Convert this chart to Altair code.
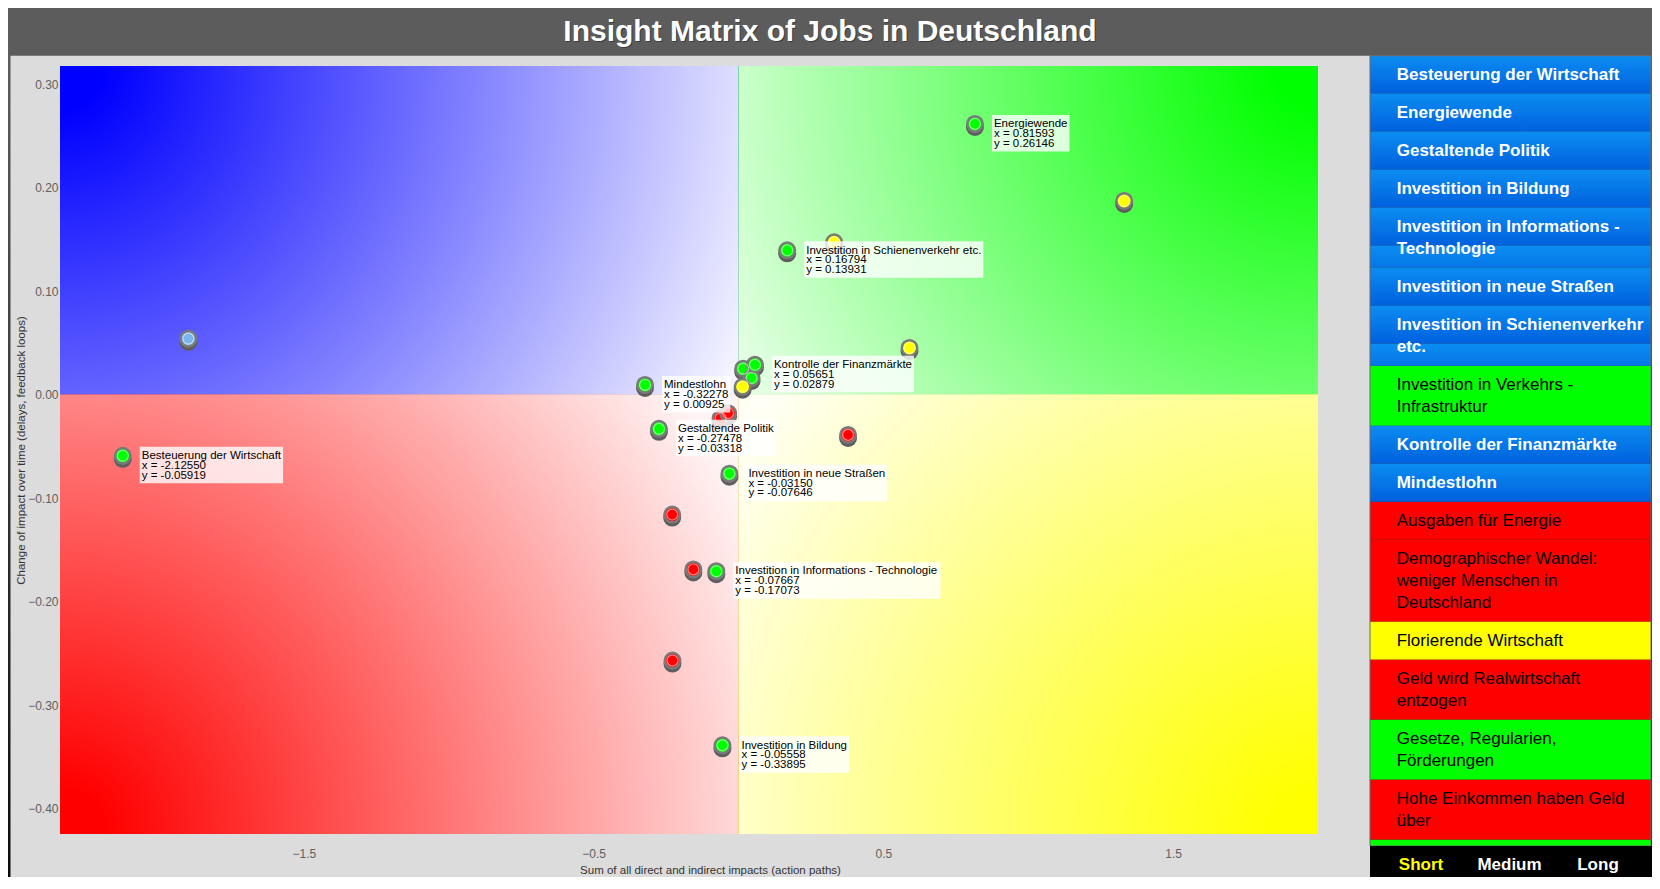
import altair as alt
import pandas as pd

# ---------------- data ----------------
labeled_names = [
    "Besteuerung der Wirtschaft",
    "Energiewende",
    "Investition in Schienenverkehr etc.",
    "Kontrolle der Finanzmärkte",
    "Mindestlohn",
    "Gestaltende Politik",
    "Investition in neue Straßen",
    "Investition in Informations - Technologie",
    "Investition in Bildung",
]
labeled_x = [-2.12550, 0.81593, 0.16794, 0.05651, -0.32278, -0.27478, -0.03150, -0.07667, -0.05558]
labeled_y = [-0.05919, 0.26146, 0.13931, 0.02879, 0.00925, -0.03318, -0.07646, -0.17073, -0.33895]

other_x = [-1.899, -0.062, -0.036, 0.378, -0.229, -0.156, -0.228, 0.016, 0.045, 1.331, 0.330, 0.590, 0.014]
other_y = [0.054, -0.023, -0.018, -0.039, -0.116, -0.169, -0.257, 0.025, 0.016, 0.187, 0.147, 0.045, 0.0075]
other_kind = ["blue", "red", "red", "red", "red", "red", "red", "green", "green",
              "yellow", "yellow", "yellow", "yellow"]

legend_items = [
    "Besteuerung der Wirtschaft",
    "Energiewende",
    "Gestaltende Politik",
    "Investition in Bildung",
    "Investition in Informations -\nTechnologie",
    "Investition in neue Straßen",
    "Investition in Schienenverkehr\netc.",
    "Investition in Verkehrs -\nInfrastruktur",
    "Kontrolle der Finanzmärkte",
    "Mindestlohn",
    "Ausgaben für Energie",
    "Demographischer Wandel:\nweniger Menschen in\nDeutschland",
    "Florierende Wirtschaft",
    "Geld wird Realwirtschaft\nentzogen",
    "Gesetze, Regularien,\nFörderungen",
    "Hohe Einkommen haben Geld\nüber",
    "",
]
legend_kind = ["blue", "blue", "blue", "blue", "blue", "blue", "blue", "green", "blue", "blue",
               "red", "red", "yellow", "red", "green", "red", "green"]

switch_labels = ["Short", "Medium", "Long"]
switch_state = ["active", "idle", "idle"]

x_ticks = [-1.5, -0.5, 0.5, 1.5]
y_ticks = [-0.40, -0.30, -0.20, -0.10, 0.00, 0.10, 0.20, 0.30]

TITLE = "Insight Matrix of Jobs in Deutschland"
X_TITLE = "Sum of all direct and indirect impacts (action paths)"
Y_TITLE = "Change of impact over time (delays, feedback loops)"

# ---------------- layout ----------------
FONT = "Liberation Sans"
W, H = 1258, 768
PAD_L, PAD_T = 52, 58
CANVAS_W, CANVAS_H = 1644, 869
XMIN, XMAX = -2.342, 2.0
YMIN, YMAX = -0.4246, 0.3174
kx = W / (XMAX - XMIN)
ky = H / (YMAX - YMIN)

KIND_DOMAIN = ["green", "red", "yellow", "blue"]
KIND_RANGE = ["#00ff00", "#ff0000", "#ffff00", "#7cb5ec"]

AW = {" ": 278, ",": 278, "-": 333, ".": 278, ":": 278, "=": 584,
      "A": 667, "B": 667, "C": 722, "D": 722, "E": 667, "F": 611, "G": 778, "H": 722, "I": 278,
      "J": 500, "K": 667, "L": 556, "M": 833, "N": 722, "O": 778, "P": 667, "Q": 778, "R": 722,
      "S": 667, "T": 611, "U": 722, "V": 667, "W": 944, "X": 667, "Y": 667, "Z": 611,
      "a": 556, "b": 556, "c": 500, "d": 556, "e": 556, "f": 278, "g": 556, "h": 556, "i": 222,
      "j": 222, "k": 500, "l": 222, "m": 833, "n": 556, "o": 556, "p": 556, "q": 556, "r": 333,
      "s": 500, "t": 278, "u": 556, "v": 500, "w": 722, "x": 500, "y": 500, "z": 500,
      "ä": 556, "ö": 556, "ü": 556, "ß": 611}


def text_w(s, size):
    return sum(AW.get(ch, 556) for ch in s) * size / 1000.0


xscale = alt.Scale(domain=[XMIN, XMAX], nice=False, zero=False)
yscale = alt.Scale(domain=[YMIN, YMAX], nice=False, zero=False)
one = alt.Data(values=[{"a": 1}])

# ---------------- tables ----------------
pts_rows = [dict(x=a, y=b, kind=k) for a, b, k in zip(other_x, other_y, other_kind)]
pts_rows += [dict(x=a, y=b, kind="green") for a, b in zip(labeled_x, labeled_y)]
pts = pd.DataFrame(pts_rows)

LAB_FS = 11.5
lab_rows = []
for nm, a, b in zip(labeled_names, labeled_x, labeled_y):
    lines = [nm, f"x = {a:.5f}", f"y = {b:.5f}"]
    bw = max(text_w(l, LAB_FS) for l in lines) + 4
    lab_rows.append(dict(x=a, y=b, txt="\n".join(lines),
                         bx1=a + 17 / kx, bx2=a + (17 + bw) / kx,
                         by1=b + 9 / ky, by2=b - 27.5 / ky))
labs = pd.DataFrame(lab_rows)

quad = pd.DataFrame([
    dict(q="blue", x1=XMIN, x2=0.0, y1=0.0, y2=YMAX),
    dict(q="green", x1=0.0, x2=XMAX, y1=0.0, y2=YMAX),
    dict(q="red", x1=XMIN, x2=0.0, y1=YMIN, y2=0.0),
    dict(q="yellow", x1=0.0, x2=XMAX, y1=YMIN, y2=0.0),
])

# legend rows (pixel space relative to plot origin)
LEG_L, LEG_R, LEG_TOP = 1310, 1591, -10.3
ROW1, LINE_H, TILE = 38, 22, 38
rows, tiles_full, tiles_part = [], [], []
top = LEG_TOP
for nm, k in zip(legend_items, legend_kind):
    n = nm.count("\n") + 1
    h = ROW1 + LINE_H * (n - 1)
    rows.append(dict(name=nm, kind=k, top=top, bot=top + h,
                     ty=top + h / 2 - (n - 1) * LINE_H / 2,
                     l=LEG_L, r=LEG_R, tx=LEG_L + 26.7))
    if k == "blue":
        tiles_full.append(dict(top=top, bot=top + TILE, l=LEG_L, r=LEG_R))
        if h > TILE:
            tiles_part.append(dict(top=top + TILE, bot=top + h, l=LEG_L, r=LEG_R))
    top += h
rows = pd.DataFrame(rows)
STRIP_TOP = 780
sw = pd.DataFrame(dict(label=switch_labels, state=switch_state,
                       px=[1361, 1449.5, 1538], py=[799, 799, 799]))


def grad(c0, c1, x1, y1, x2, y2, hold=0.08):
    return alt.LinearGradient(
        gradient="linear", x1=x1, y1=y1, x2=x2, y2=y2,
        stops=[alt.GradientStop(color=c0, offset=0), alt.GradientStop(color=c0, offset=hold),
               alt.GradientStop(color=c1, offset=1)])


def rgrad(c0, c1, corner, w, h, radius, hold=0.06):
    # Vega draws SVG radial gradients in a square of side max(w, h) centred on the box
    s = max(w, h)
    ox, oy = (s - w) / 2, (s - h) / 2
    cx = (ox + corner[0] * w) / s
    cy = (oy + corner[1] * h) / s
    return alt.RadialGradient(
        gradient="radial", x1=cx, y1=cy, r1=0, x2=cx, y2=cy, r2=radius / s,
        stops=[alt.GradientStop(color=c0, offset=0), alt.GradientStop(color=c0, offset=hold),
               alt.GradientStop(color=c1, offset=1)])


# ---------------- layers ----------------
bg = alt.Chart(one).mark_rect(
    fill=grad("#5c5c5c", "#0c0c0c", 0.5, 0, 0.5, 1, hold=0.07)
).encode(x=alt.value(-PAD_L), x2=alt.value(CANVAS_W - PAD_L),
         y=alt.value(-PAD_T), y2=alt.value(CANVAS_H - PAD_T))

panel = alt.Chart(one).mark_rect(fill="#dcdcdc").encode(
    x=alt.value(-49.5), x2=alt.value(LEG_L), y=alt.value(LEG_TOP), y2=alt.value(CANVAS_H - PAD_T))

x_axis = alt.Axis(values=x_ticks, format=".1f", labelFontSize=12, labelColor="#606060",
                  labelFont=FONT, labelPadding=14, ticks=False, domain=False, grid=False,
                  labelOverlap=False, labelFlush=False, zindex=2,
                  title=X_TITLE, titleFont=FONT, titleFontSize=11.5, titleColor="#333333",
                  titleFontWeight="normal", titleX=650, titleY=36, titleBaseline="middle",
                  titleAlign="center")
y_axis = alt.Axis(values=y_ticks, format=".2f", labelFontSize=12, labelColor="#606060",
                  labelFont=FONT, labelPadding=2, ticks=False, domain=False, grid=False,
                  labelOverlap=False, labelFlush=False, zindex=2,
                  title=Y_TITLE, titleFont=FONT, titleFontSize=11.5, titleColor="#333333",
                  titleFontWeight="normal", titleX=-39, titleY=H / 2, titleAngle=270,
                  titleBaseline="middle", titleAlign="center")

wl, wr = -XMIN * kx, XMAX * kx
ht, hb = YMAX * ky, -YMIN * ky
quad_grads = {
    "blue": rgrad("#0000ff", "#f4f4ff", (0, 0), wl, ht, 740),
    "green": rgrad("#00ff00", "#f0fff0", (1, 0), wr, ht, 680),
    "red": rgrad("#ff0000", "#fff4f4", (0, 1), wl, hb, 760),
    "yellow": rgrad("#ffff00", "#fffff6", (1, 1), wr, hb, 700),
}
quad_layers = []
for i, q in enumerate(["blue", "green", "red", "yellow"]):
    xa = x_axis if i == 0 else None
    ya = y_axis if i == 0 else None
    quad_layers.append(
        alt.Chart(quad).transform_filter(alt.datum.q == q).mark_rect(fill=quad_grads[q]).encode(
            x=alt.X("x1:Q", scale=xscale, axis=xa), x2="x2:Q",
            y=alt.Y("y1:Q", scale=yscale, axis=ya), y2="y2:Q"))

PX = alt.X("x:Q", scale=xscale, axis=None)
PY = alt.Y("y:Q", scale=yscale, axis=None)
kind_fill = alt.Fill("kind:N", scale=alt.Scale(domain=KIND_DOMAIN, range=KIND_RANGE), legend=None)

shadow = alt.Chart(pts).mark_circle(size=324, color="#5e5e5e", opacity=1, yOffset=3).encode(x=PX, y=PY)
dots = alt.Chart(pts).mark_circle(size=240, opacity=1, stroke="#7a7a7a", strokeWidth=2.5).encode(
    x=PX, y=PY, fill=kind_fill)
rings = alt.Chart(pts).mark_point(shape="circle", filled=False, size=118, stroke="white",
                                  strokeWidth=1.2, strokeOpacity=0.5, opacity=1).encode(x=PX, y=PY)

boxes = alt.Chart(labs).mark_rect(fill="white", fillOpacity=0.8).encode(
    x=alt.X("bx1:Q", scale=xscale, axis=None), x2="bx2:Q",
    y=alt.Y("by1:Q", scale=yscale, axis=None), y2="by2:Q")
texts = alt.Chart(labs).mark_text(align="left", baseline="alphabetic", dx=19, dy=3.2,
                                  fontSize=LAB_FS, font=FONT, lineBreak="\n", lineHeight=9.8,
                                  color="#000000").encode(x=PX, y=PY, text="txt:N")

# legend
LX = alt.X("l:Q", scale=None, axis=None)
LY = alt.Y("top:Q", scale=None, axis=None)
leg_plain = alt.Chart(rows).transform_filter(alt.datum.kind != "blue").mark_rect().encode(
    x=LX, x2="r:Q", y=LY, y2="bot:Q",
    fill=alt.Fill("kind:N", scale=alt.Scale(domain=KIND_DOMAIN, range=KIND_RANGE), legend=None))
leg_full = alt.Chart(pd.DataFrame(tiles_full)).mark_rect(
    fill=grad("#0b8df2", "#0060dd", 0, 0, 0, 1, hold=0.0)).encode(x=LX, x2="r:Q", y=LY, y2="bot:Q")
leg_part = alt.Chart(pd.DataFrame(tiles_part)).mark_rect(
    fill=grad("#0b8df2", "#0576e8", 0, 0, 0, 1, hold=0.0)).encode(x=LX, x2="r:Q", y=LY, y2="bot:Q")
TX = alt.X("tx:Q", scale=None, axis=None)
TY = alt.Y("ty:Q", scale=None, axis=None)
leg_txt_blue = alt.Chart(rows).transform_filter(alt.datum.kind == "blue").mark_text(
    align="left", baseline="middle", fontSize=17, font=FONT, fontWeight="bold",
    lineBreak="\n", lineHeight=LINE_H, color="white").encode(x=TX, y=TY, text="name:N")
leg_txt_other = alt.Chart(rows).transform_filter(alt.datum.kind != "blue").mark_text(
    align="left", baseline="middle", fontSize=17, font=FONT,
    lineBreak="\n", lineHeight=LINE_H, color="black").encode(x=TX, y=TY, text="name:N")
strip = alt.Chart(one).mark_rect(fill="#000000").encode(
    x=alt.value(LEG_L), x2=alt.value(LEG_R + 1), y=alt.value(STRIP_TOP), y2=alt.value(CANVAS_H - PAD_T))
sw_txt = alt.Chart(sw).mark_text(align="center", baseline="middle", fontSize=17, font=FONT,
                                 fontWeight="bold").encode(
    x=alt.X("px:Q", scale=None, axis=None), y=alt.Y("py:Q", scale=None, axis=None), text="label:N",
    color=alt.Color("state:N", scale=alt.Scale(domain=["active", "idle"], range=["#ffff00", "#ffffff"]),
                    legend=None))
leg_border = alt.Chart(one).mark_rect(fill=None, stroke="#6a6a6a", strokeWidth=1).encode(
    x=alt.value(LEG_L), x2=alt.value(LEG_R), y=alt.value(LEG_TOP), y2=alt.value(STRIP_TOP))

title_df = pd.DataFrame(dict(t=[TITLE], px=[770], py=[-34.3]))
title_sh = alt.Chart(title_df).mark_text(align="center", baseline="middle", fontSize=30, font=FONT,
                                         fontWeight="bold", color="#000000", opacity=0.35,
                                         dx=1, dy=1.5).encode(
    x=alt.X("px:Q", scale=None, axis=None), y=alt.Y("py:Q", scale=None, axis=None), text="t:N")
title_tx = alt.Chart(title_df).mark_text(align="center", baseline="middle", fontSize=30, font=FONT,
                                         fontWeight="bold", color="#ffffff").encode(
    x=alt.X("px:Q", scale=None, axis=None), y=alt.Y("py:Q", scale=None, axis=None), text="t:N")

chart = alt.layer(
    bg, panel, *quad_layers, shadow, dots, rings, boxes, texts,
    leg_plain, leg_full, leg_part, leg_txt_blue, leg_txt_other, leg_border, strip, sw_txt,
    title_sh, title_tx,
).resolve_scale(x="independent", y="independent", fill="independent", color="independent").properties(
    width=W, height=H,
    autosize=alt.AutoSizeParams(type="none"),
    padding={"left": PAD_L, "top": PAD_T, "right": CANVAS_W - PAD_L - W, "bottom": CANVAS_H - PAD_T - H},
).configure_view(stroke=None).configure(background="#595959")

chart.save("out.html", embed_options={"renderer": "svg", "actions": False})
